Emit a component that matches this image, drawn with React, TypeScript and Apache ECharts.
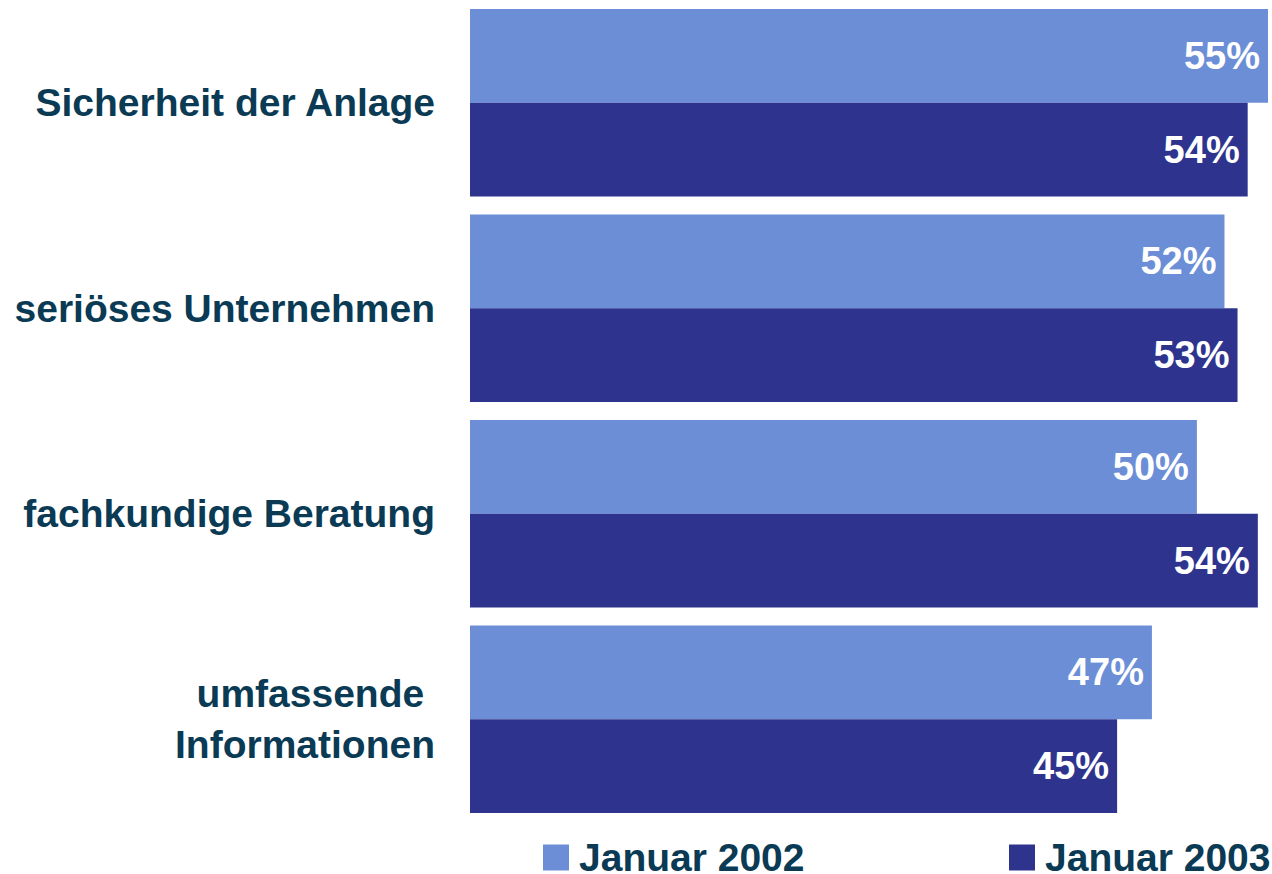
import React, { useEffect, useRef } from "react";
import * as echarts from "echarts";

const categories = [
  "Sicherheit der Anlage",
  "seriöses Unternehmen",
  "fachkundige Beratung",
  "umfassende \nInformationen",
];
const seriesNames = ["Januar 2002", "Januar 2003"];
const values2002 = [55.0, 52.0, 50.1, 47.0];
const values2003 = [53.6, 52.9, 54.3, 44.6];
const colors = ["#6B8ED6", "#2E348E"];

const TEXT_COLOR = "#0A3A54";
const FONT = "'Liberation Sans', Arial, Helvetica, sans-serif";

export default function App() {
  const ref = useRef<HTMLDivElement>(null);
  useEffect(() => {
    if (!ref.current) return;
    const chart = echarts.init(ref.current, null, { renderer: "svg" });
    const label = {
      show: true,
      position: "insideRight",
      distance: 8,
      color: "#FFFFFF",
      fontSize: 38,
      fontWeight: "bold",
      fontFamily: FONT,
      formatter: (p: any) => Math.round(p.value) + "%",
    };
    const legendBase = {
      top: 838,
      padding: 0,
      itemWidth: 26,
      itemHeight: 26,
      icon: "rect",
      selectedMode: false,
      textStyle: {
        fontSize: 39,
        fontWeight: "bold",
        fontFamily: FONT,
        color: TEXT_COLOR,
        padding: [0, 0, 0, 5],
      },
    };
    chart.setOption({
      animation: false,
      textStyle: { fontFamily: FONT },
      legend: [
        { ...legendBase, left: 543, data: [seriesNames[0]] },
        { ...legendBase, left: 1009, data: [seriesNames[1]] },
      ],
      grid: { left: 470, right: 4, top: -1, bottom: 52, containLabel: false },
      xAxis: {
        type: "value",
        min: 0,
        max: 55,
        show: false,
      },
      yAxis: {
        type: "category",
        data: categories,
        inverse: true,
        axisLine: { show: false },
        axisTick: { show: false },
        splitLine: { show: false },
        axisLabel: {
          margin: 35,
          fontSize: 39,
          fontWeight: "bold",
          fontFamily: FONT,
          color: TEXT_COLOR,
          lineHeight: 51,
          align: "right",
        },
      },
      series: [
        {
          name: seriesNames[0],
          type: "bar",
          data: values2002,
          itemStyle: { color: colors[0] },
          barGap: "0%",
          barCategoryGap: "8.76%",
          label,
        },
        {
          name: seriesNames[1],
          type: "bar",
          data: values2003,
          itemStyle: { color: colors[1] },
          barGap: "0%",
          barCategoryGap: "8.76%",
          label,
        },
      ],
    });
    return () => chart.dispose();
  }, []);
  return (
    <div
      ref={ref}
      style={{ position: "absolute", left: 0, top: 0, width: 1272, height: 874 }}
    />
  );
}
